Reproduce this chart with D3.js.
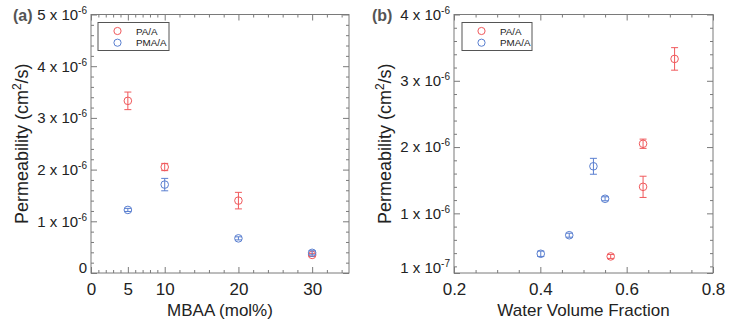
<!DOCTYPE html>
<html>
<head>
<meta charset="utf-8">
<script src="https://cdn.jsdelivr.net/npm/d3@7"></script>
<style>
  body { margin: 0; background: #fff; }
  svg { font-family: "Liberation Sans", Arial, sans-serif; }
</style>
</head>
<body>
<div id="chart"></div>
<script>
// data, permeability in units of 1e-6 cm^2/s
const series = ['PA/A', 'PMA/A'];
const colors = ['#f0595c', '#5a7fd0'];
const mbaa = [5, 10, 20, 30];
const paPerm = [3.33, 2.05, 1.40, 0.35];
const paErr = [0.17, 0.07, 0.16, 0.03];
const pmaPerm = [1.22, 1.71, 0.67, 0.39];
const pmaErr = [0.03, 0.12, 0.03, 0.04];
const paWater = [0.711, 0.638, 0.638, 0.563];
const pmaWater = [0.550, 0.523, 0.467, 0.401];

const leftXTicks = [0, 5, 10, 20, 30];
const leftXMinor = [1, 2, 3, 4, 6, 7, 8, 9, 12, 14, 16, 18, 22, 24, 26, 28, 32, 34];
const leftYTicks = [0, 1, 2, 3, 4, 5];
const rightXTicks = [0.2, 0.4, 0.6, 0.8];
const rightYTicks = [0.1, 1, 2, 3, 4];

const W = 730, H = 324;
const svg = d3.select('#chart').append('svg')
  .attr('width', W).attr('height', H);
svg.append('rect').attr('width', W).attr('height', H).attr('fill', '#fff');

const frameColor = '#7a7a7a';
const textColor = '#222';

function sciLabel(sel, v) {
  // "n x 10^-e" style labels
  sel.text(null);
  if (v === 0) { sel.append('tspan').text('0'); return; }
  let e = Math.floor(Math.log10(v * 1e-6) + 1e-9);
  let m = Math.round(v * 1e-6 / Math.pow(10, e));
  sel.append('tspan').text(m + ' x 10');
  sel.append('tspan').attr('dy', -6).attr('font-size', 10).text(String(e));
}

function drawPanel(opt) {
  const g = svg.append('g');
  const x = d3.scaleLinear().domain(opt.xDomain).range([opt.left, opt.right]);
  const y = d3.scaleLinear().domain(opt.yDomain).range([opt.bottom, opt.top]);

  // minor ticks first
  const minorAxes = [
    [d3.axisBottom(x), opt.bottom, opt.xMinor, 'x'],
    [d3.axisTop(x), opt.top, opt.xMinor, 'x'],
    [d3.axisLeft(y), opt.left, opt.yMinor, 'y'],
    [d3.axisRight(y), opt.right, opt.yMinor, 'y']
  ];
  minorAxes.forEach(([ax, pos, vals, dir]) => {
    const a = g.append('g')
      .attr('transform', dir === 'x' ? `translate(0,${pos})` : `translate(${pos},0)`)
      .call(ax.tickValues(vals).tickSizeInner(-3).tickSizeOuter(0).tickFormat(''));
    a.select('.domain').remove();
    a.selectAll('line').attr('stroke', frameColor);
  });

  // major ticks, labels on bottom and left
  const xb = g.append('g').attr('transform', `translate(0,${opt.bottom})`)
    .call(d3.axisBottom(x).tickValues(opt.xTicks).tickSizeInner(-6).tickSizeOuter(0)
      .tickPadding(10).tickFormat(opt.xFormat));
  const xt = g.append('g').attr('transform', `translate(0,${opt.top})`)
    .call(d3.axisTop(x).tickValues(opt.xTicks).tickSizeInner(-6).tickSizeOuter(0).tickFormat(''));
  const yl = g.append('g').attr('transform', `translate(${opt.left},0)`)
    .call(d3.axisLeft(y).tickValues(opt.yTicks).tickSizeInner(-6).tickSizeOuter(0).tickPadding(4));
  const yr = g.append('g').attr('transform', `translate(${opt.right},0)`)
    .call(d3.axisRight(y).tickValues(opt.yTicks).tickSizeInner(-6).tickSizeOuter(0).tickFormat(''));
  [xb, xt, yl, yr].forEach(a => {
    a.select('.domain').remove();
    a.selectAll('line').attr('stroke', frameColor);
  });
  xb.selectAll('text').attr('font-size', 17).attr('fill', textColor)
    .attr('font-family', '"Liberation Sans", Arial, sans-serif');
  yl.selectAll('text').attr('font-size', 15).attr('fill', textColor)
    .attr('font-family', '"Liberation Sans", Arial, sans-serif')
    .each(function(d) { sciLabel(d3.select(this), d); });
  // the bottom label sits a bit above its tick
  yl.selectAll('.tick').filter(d => d === opt.yDomain[0])
    .select('text').attr('y', -5);

  // frame
  g.append('rect')
    .attr('x', opt.left).attr('y', opt.top)
    .attr('width', opt.right - opt.left).attr('height', opt.bottom - opt.top)
    .attr('fill', 'none').attr('stroke', frameColor).attr('stroke-width', 1);

  // points with error bars
  opt.data.forEach((s, si) => {
    const col = colors[si];
    const pts = s.xs.map((xv, i) => ({ x: xv, y: s.ys[i], e: s.es[i] }));
    const pg = g.append('g').attr('stroke', col).attr('fill', 'none').attr('stroke-width', 1);
    pg.selectAll('line.err').data(pts).join('line').attr('class', 'err')
      .attr('x1', d => x(d.x)).attr('x2', d => x(d.x))
      .attr('y1', d => y(d.y - d.e)).attr('y2', d => y(d.y + d.e));
    pg.selectAll('line.capt').data(pts).join('line').attr('class', 'capt')
      .attr('x1', d => x(d.x) - 3.5).attr('x2', d => x(d.x) + 3.5)
      .attr('y1', d => y(d.y + d.e)).attr('y2', d => y(d.y + d.e));
    pg.selectAll('line.capb').data(pts).join('line').attr('class', 'capb')
      .attr('x1', d => x(d.x) - 3.5).attr('x2', d => x(d.x) + 3.5)
      .attr('y1', d => y(d.y - d.e)).attr('y2', d => y(d.y - d.e));
    pg.selectAll('circle').data(pts).join('circle')
      .attr('cx', d => x(d.x)).attr('cy', d => y(d.y)).attr('r', 3.8);
  });

  // legend
  const lg = g.append('g');
  lg.append('rect')
    .attr('x', opt.legend[0]).attr('y', 22.5)
    .attr('width', opt.legend[1]).attr('height', 28)
    .attr('fill', '#fff').attr('stroke', '#555').attr('stroke-width', 1);
  series.forEach((name, i) => {
    const ly = 31 + i * 11.7;
    lg.append('circle').attr('cx', opt.legend[0] + 19.5).attr('cy', ly).attr('r', 3.6)
      .attr('fill', 'none').attr('stroke', colors[i]);
    lg.append('text').attr('x', opt.legend[0] + 38).attr('y', ly + 3.5)
      .attr('font-size', 9.8).attr('fill', textColor).text(name);
  });

  // titles
  g.append('text')
    .attr('x', (opt.left + opt.right) / 2).attr('y', 316)
    .attr('text-anchor', 'middle').attr('font-size', 17).attr('fill', textColor)
    .text(opt.xTitle);
  const yt = g.append('text')
    .attr('transform', `translate(${opt.yTitleX},${(opt.top + opt.bottom) / 2}) rotate(-90)`)
    .attr('text-anchor', 'middle').attr('font-size', 18).attr('fill', textColor);
  yt.append('tspan').text('Permeability (cm');
  yt.append('tspan').attr('dy', -7).attr('font-size', 12).text('2');
  yt.append('tspan').attr('dy', 7).text('/s)');

  g.append('text')
    .attr('x', opt.tag[0]).attr('y', 21)
    .attr('font-size', 16).attr('font-weight', 'bold').attr('fill', '#555')
    .text(opt.tag[1]);
}

drawPanel({
  left: 91, right: 349, top: 14.5, bottom: 273,
  xDomain: [0, 35], yDomain: [0, 5],
  xTicks: leftXTicks, xMinor: leftXMinor,
  yTicks: leftYTicks, yMinor: d3.range(0.2, 5, 0.2).filter(v => Math.abs(v - Math.round(v)) > 0.01),
  xFormat: d3.format('d'),
  data: [
    { xs: mbaa, ys: paPerm, es: paErr },
    { xs: mbaa, ys: pmaPerm, es: pmaErr }
  ],
  legend: [98, 71],
  xTitle: 'MBAA (mol%)',
  yTitleX: 28,
  tag: [13, '(a)']
});

drawPanel({
  left: 454, right: 713, top: 14.5, bottom: 273,
  xDomain: [0.2, 0.8], yDomain: [0.1, 4],
  xTicks: rightXTicks, xMinor: d3.range(0.25, 0.8, 0.05).filter(v => Math.abs(v * 5 - Math.round(v * 5)) > 0.01),
  yTicks: rightYTicks, yMinor: d3.range(1.2, 4, 0.2).filter(v => Math.abs(v - Math.round(v)) > 0.01).concat([0.2, 0.4, 0.6, 0.8]),
  xFormat: d3.format('.1f'),
  data: [
    { xs: paWater, ys: paPerm, es: paErr },
    { xs: pmaWater, ys: pmaPerm, es: pmaErr }
  ],
  legend: [462, 70],
  xTitle: 'Water Volume Fraction',
  yTitleX: 391,
  tag: [372, '(b)']
});
</script>
</body>
</html>
